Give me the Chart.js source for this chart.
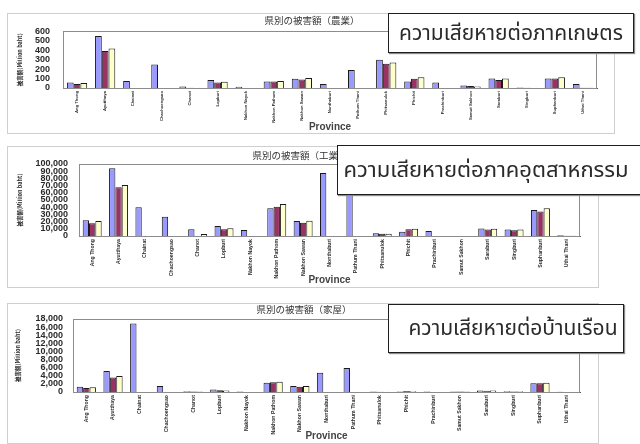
<!DOCTYPE html>
<html>
<head>
<meta charset="utf-8">
<title>県別の被害額</title>
<script src="https://cdn.jsdelivr.net/npm/chart.js@4/dist/chart.umd.min.js"></script>
<style>
  html, body { margin: 0; padding: 0; background: #fff; }
  body { position: relative; width: 640px; height: 444px; overflow: hidden; }
  canvas { position: absolute; }
  .note {
    position: absolute; box-sizing: border-box; background: #fff;
    border: 1px solid #1e1e1e; box-shadow: 1px 1px 1px #8a8a8a;
    display: flex; align-items: center; justify-content: center;
    font-family: "Noto Sans Thai", "Noto Sans", "Loma", "Garuda", sans-serif;
    font-size: 21px; color: #2a2a2a; white-space: nowrap;
  }
</style>
</head>
<body>
<canvas id="agri" width="608" height="121" style="left:7px;top:13px;width:608px;height:121px"></canvas>
<canvas id="ind" width="592" height="142" style="left:7px;top:146px;width:592px;height:142px"></canvas>
<canvas id="home" width="592" height="141" style="left:7px;top:303px;width:592px;height:141px"></canvas>

<div class="note" style="left:388px;top:13px;width:246px;height:40px;">ความเสียหายต่อภาคเกษตร</div>
<div class="note" style="left:337px;top:145px;width:306px;height:50px;padding-right:8px;font-size:22px;">ความเสียหายต่อภาคอุตสาหกรรม</div>
<div class="note" style="left:388px;top:304px;width:236px;height:49px;padding-left:14px;">ความเสียหายต่อบ้านเรือน</div>

<script>
// Provinces along the category axis
const provinces = [
  'Ang Thong', 'Ayutthaya', 'Chainat', 'Chachoengsao', 'Chanot', 'Lopburi',
  'Nakhon Nayok', 'Nakhon Pathom', 'Nakhon Sawan', 'Nonthaburi', 'Pathum Thani',
  'Phitsanulok', 'Phichit', 'Prachinburi', 'Samut Sakhon', 'Saraburi',
  'Singburi', 'Suphanburi', 'Uthai Thani'
];

// Three estimates per province (million baht); null = no bar
const seriesNames = ['Estimate 1', 'Estimate 2', 'Estimate 3'];

// 農業
const agriA = [59, 551, 75, 250, 15, 85, 12, 69, 98, 43, 191, 299, 69, 59, 27, 102, 5, 102, 43];
const agriB = [43, 393, null, null, 3, 59, null, 69, 89, null, null, 256, 98, null, 22, 86, 3, 102, 2];
const agriC = [53, 420, null, null, 3, 65, null, 75, 105, null, null, 270, 115, null, 17, 102, 3, 115, 2];

// 工業
const indA = [22000, 94000, 39800, 26800, 9300, 13900, 8300, 38400, 20800, 87500, 97000, 3800, 6000, 7000, null, 10500, 9000, 36000, 1000];
const indB = [17600, 67600, null, null, null, 9300, null, 40700, 18500, null, null, 3000, 9500, null, null, 9000, 8000, 34000, 300];
const indC = [20800, 70800, null, null, 2700, 10600, null, 44400, 21300, null, null, 3200, 10000, null, null, 10000, 9000, 38500, 300];

// 家屋
const homeA = [1300, 5180, 16900, 1480, 200, 600, 150, 2300, 1480, 4750, 5900, 100, 150, 100, 150, 350, 200, 2140, 50];
const homeB = [1000, 3600, null, null, 100, 450, null, 2380, 1320, null, null, 80, 250, null, 100, 300, 150, 2140, 30];
const homeC = [1200, 3950, null, null, 150, 350, null, 2540, 1480, null, null, 80, 200, null, 100, 350, 200, 2300, 30];

const barFills = ['#9999ff', '#993366', '#ffffcc'];
const yTitle = '被害額(Million baht)';
const xTitle = 'Province';

// Outer panel border, plot-area frame and the panel heading
const panelFrame = {
  id: 'panelFrame',
  beforeDraw(chart) {
    const { ctx, width, height } = chart;
    ctx.save();
    ctx.fillStyle = '#ffffff';
    ctx.fillRect(0, 0, width, height);
    ctx.strokeStyle = '#cfcfcf';
    ctx.lineWidth = 1;
    ctx.strokeRect(0.5, 0.5, width - 1, height - 1);
    ctx.restore();
  },
  afterDraw(chart, args, opts) {
    const { ctx, chartArea: a } = chart;
    ctx.save();
    ctx.strokeStyle = '#8c8c8c';
    ctx.lineWidth = 1;
    ctx.strokeRect(Math.round(a.left) + 0.5, Math.round(a.top) + 0.5,
                   Math.round(a.width) - 1, Math.round(a.height));
    ctx.fillStyle = '#333';
    ctx.font = '9.5px "Noto Sans CJK JP", sans-serif';
    ctx.textAlign = 'center';
    ctx.textBaseline = 'middle';
    ctx.fillText(opts.heading, opts.hx, opts.hy);
    ctx.restore();
  }
};

function buildChart(id, values, cfg) {
  const datasets = values.map((v, i) => ({
    label: seriesNames[i],
    data: v,
    backgroundColor: barFills[i],
    borderColor: '#1a1a1a',
    borderWidth: 1,
    categoryPercentage: 0.72,
    barPercentage: 1.0
  }));
  return new Chart(document.getElementById(id), {
    type: 'bar',
    data: { labels: provinces, datasets },
    plugins: [panelFrame],
    options: {
      responsive: false,
      animation: false,
      devicePixelRatio: 1,
      locale: 'en-US',
      layout: { padding: { top: cfg.padTop, right: cfg.padRight, left: 0, bottom: 0 } },
      plugins: {
        legend: { display: false },
        tooltip: { enabled: false },
        title: { display: false },
        panelFrame: { heading: cfg.heading, hx: cfg.hx, hy: cfg.hy }
      },
      scales: {
        x: {
          grid: { display: false, drawTicks: false },
          border: { display: true, color: '#555' },
          ticks: {
            autoSkip: false, minRotation: 90, maxRotation: 90, padding: 3,
            color: '#2a2a2a',
            font: { family: 'Liberation Sans', size: cfg.xFont, weight: 'bold' }
          },
          title: {
            display: true, text: xTitle, color: '#444',
            font: { family: 'Liberation Sans', size: 10, weight: 'bold' },
            padding: { top: 0, bottom: cfg.xTitlePad }
          },
          afterFit(scale) { scale.height = cfg.xHeight; }
        },
        y: {
          min: 0, max: cfg.max,
          grid: { display: false, drawTicks: false },
          border: { display: true, color: '#555' },
          ticks: {
            stepSize: cfg.step, autoSkip: false, padding: cfg.yPad,
            color: '#2a2a2a',
            font: { family: 'Liberation Sans', size: 9, weight: 'bold' }
          },
          title: {
            display: true, text: yTitle, color: '#2a2a2a',
            font: { family: '"Noto Sans CJK JP", sans-serif', size: 5.5, weight: 'bold' },
            padding: { top: cfg.yTitlePad, bottom: 0 }
          },
          afterFit(scale) { scale.width = cfg.yWidth; }
        }
      }
    }
  });
}

buildChart('agri', [agriA, agriB, agriC], {
  heading: '県別の被害額（農業）', hx: 305, hy: 7,
  padTop: 14, padRight: 18, yWidth: 56, xHeight: 46,
  max: 600, step: 100, yPad: 13, xFont: 4.2, xTitlePad: 1, yTitlePad: 9.7
});

buildChart('ind', [indA, indB, indC], {
  heading: '県別の被害額（工業）', hx: 293, hy: 9,
  padTop: 18, padRight: 19, yWidth: 72, xHeight: 52,
  max: 100000, step: 10000, yPad: 11, xFont: 5.2, xTitlePad: 2, yTitlePad: 9.7
});

buildChart('home', [homeA, homeB, homeC], {
  heading: '県別の被害額（家屋）', hx: 297, hy: 6,
  padTop: 16, padRight: 19, yWidth: 66, xHeight: 52,
  max: 18000, step: 2000, yPad: 10, xFont: 5.2, xTitlePad: 2, yTitlePad: 7.7
});
</script>
</body>
</html>
